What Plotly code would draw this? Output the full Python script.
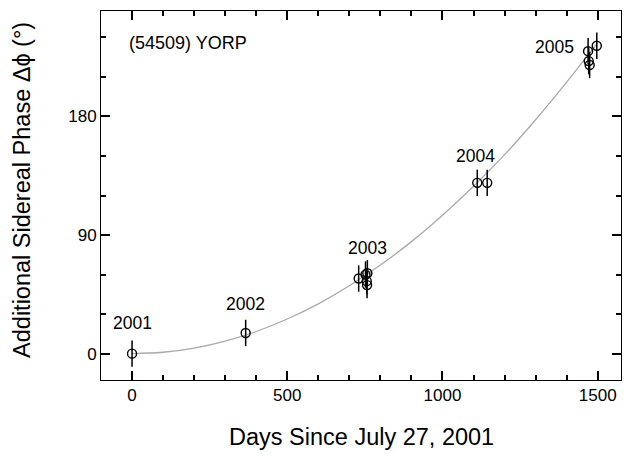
import plotly.graph_objects as go

# Observed phase offsets (days since 2001-07-27, degrees, 1-sigma error)
days = [0, 366, 730, 752, 758, 756, 757, 1112, 1144, 1469, 1497, 1471, 1474]
phase = [0, 15.7, 57, 60, 61, 55, 52, 129.6, 129.6, 229.5, 233.6, 222, 219]
err = [10, 10, 10, 10, 10, 10, 10, 10, 10, 10, 10, 10, 10]

# Fitted quadratic curve
fit_days = [0, 100, 200, 300, 400, 500, 600, 700, 800, 900, 1000, 1100, 1200, 1300, 1400, 1500]
fit_phase = [0, 1.05, 4.2, 9.5, 16.8, 26.3, 37.8, 51.5, 67.2, 85, 105, 127, 151, 177.5, 206, 236]

# Year labels
year_text = ["2001", "2002", "2003", "2004", "2005"]
year_x = [0, 366, 757, 1105, 1360]
year_y = [23, 38, 80, 150, 233]

FONT = "Liberation Sans, Arial, sans-serif"

fig = go.Figure()
fig.add_trace(go.Scatter(
    x=fit_days, y=fit_phase, mode="lines",
    line=dict(color="#aaaaaa", width=1.3, shape="spline"),
    hoverinfo="skip", showlegend=False))
fig.add_trace(go.Scatter(
    x=days, y=phase, mode="markers",
    marker=dict(symbol="circle-open", size=9, color="black", line=dict(width=1.4, color="black")),
    error_y=dict(type="data", array=err, visible=True, color="black", thickness=1.5, width=0),
    showlegend=False))

for t, x, y in zip(year_text, year_x, year_y):
    fig.add_annotation(x=x, y=y, text=t, showarrow=False, xanchor="center", yanchor="middle",
                       font=dict(family=FONT, size=17.5, color="black"))

fig.add_annotation(x=-16, y=236, text="(54509) YORP", showarrow=False, xanchor="left", yanchor="middle",
                   font=dict(family=FONT, size=18, color="black"))

fig.add_annotation(xref="paper", yref="paper", x=0.5, y=-0.155, text="Days Since July 27, 2001",
                   showarrow=False, xanchor="center", yanchor="middle",
                   font=dict(family=FONT, size=23.5, color="black"))
fig.add_annotation(xref="paper", yref="paper", x=-0.152, y=0.515, text="Additional Sidereal Phase Δϕ (°)",
                   showarrow=False, xanchor="center", yanchor="middle", textangle=-90,
                   font=dict(family=FONT, size=23.5, color="black"))

fig.update_layout(
    xaxis=dict(range=[-100, 1575], dtick=500, ticks="inside", ticklen=9, tickwidth=2, tickcolor="#000000",
               showline=True, linecolor="black", mirror="ticks",
               showgrid=False, zeroline=False, tickfont=dict(family=FONT, size=17, color="black"),
               minor=dict(ticks="inside", ticklen=5, tickcolor="#000000", dtick=100)),
    yaxis=dict(range=[-20, 260], dtick=90, ticks="inside", ticklen=9, tickwidth=2, tickcolor="#000000",
               showline=True, linecolor="black", mirror="ticks",
               showgrid=False, zeroline=False, tickfont=dict(family=FONT, size=17, color="black"),
               minor=dict(ticks="inside", ticklen=5, tickcolor="#000000", dtick=30)),
    width=627, height=460, margin=dict(l=101, r=6, t=11, b=80),
    paper_bgcolor="white", plot_bgcolor="white")

fig.write_html("out.html")
